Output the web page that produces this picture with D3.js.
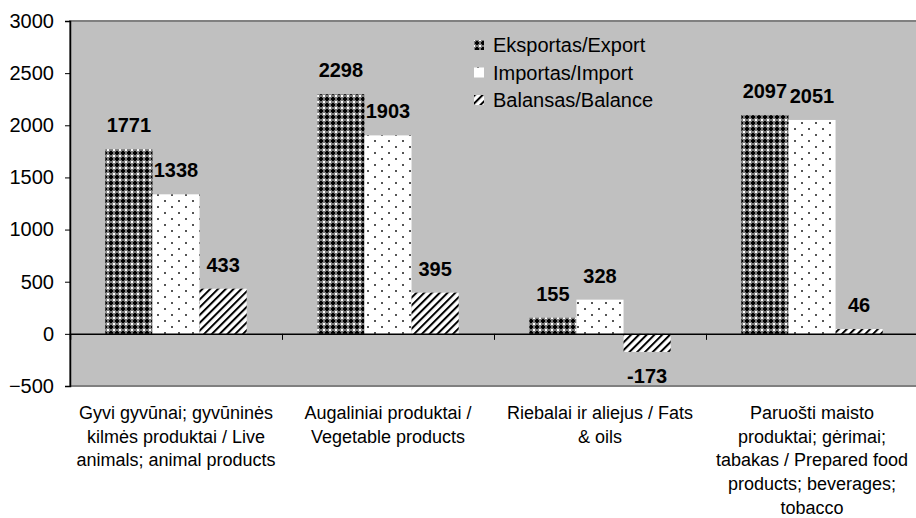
<!DOCTYPE html>
<meta charset="utf-8">
<style>
body { margin: 0; background: #fff; }
svg { font-family: Arial, "Liberation Sans", sans-serif; }
</style>
<svg width="916" height="518"></svg>
<script src="https://d3js.org/d3.v7.min.js"></script>
<script>

// chart data
var catLines = [
  ["Gyvi gyvūnai; gyvūninės", "kilmės produktai / Live", "animals; animal products"],
  ["Augaliniai produktai /", "Vegetable products"],
  ["Riebalai ir aliejus / Fats", "& oils"],
  ["Paruošti maisto", "produktai; gėrimai;", "tabakas / Prepared food", "products; beverages;", "tobacco"]
];
var seriesNames = ["Eksportas/Export", "Importas/Import", "Balansas/Balance"];
var exportVals = [1771, 2298, 155, 2097];
var importVals = [1338, 1903, 328, 2051];
var balanceVals = [433, 395, -173, 46];
var yTicks = [-500, 0, 500, 1000, 1500, 2000, 2500, 3000];

var svg = d3.select("svg");
var plot = {left: 70, right: 918, top: 21, bottom: 386};

var defs = svg.append("defs");

// export: dark checker
var p1 = defs.append("pattern").attr("id", "pExp")
    .attr("patternUnits", "userSpaceOnUse").attr("width", 6).attr("height", 6);
p1.append("rect").attr("width", 6).attr("height", 6).attr("fill", "#7a7a7a");
p1.append("rect").attr("x", 1).attr("y", 2).attr("width", 4).attr("height", 2).attr("fill", "#000");
p1.append("rect").attr("x", 2).attr("y", 1).attr("width", 2).attr("height", 4).attr("fill", "#000");
[[0,0],[5,0],[0,5],[5,5]].forEach(function(c){
  p1.append("rect").attr("x", c[0]).attr("y", c[1]).attr("width", 1).attr("height", 1).attr("fill", "#fff");
});

// import: white with dots
var p2 = defs.append("pattern").attr("id", "pImp")
    .attr("patternUnits", "userSpaceOnUse").attr("width", 14).attr("height", 12);
p2.append("rect").attr("width", 14).attr("height", 12).attr("fill", "#fff");
p2.append("rect").attr("x", 3).attr("y", 2).attr("width", 2).attr("height", 2).attr("fill", "#555");
p2.append("rect").attr("x", 10).attr("y", 8).attr("width", 2).attr("height", 2).attr("fill", "#555");

// balance: diagonal stripes
var p3 = defs.append("pattern").attr("id", "pBal")
    .attr("patternUnits", "userSpaceOnUse").attr("width", 5.5).attr("height", 5.5)
    .attr("patternTransform", "rotate(45)");
p3.append("rect").attr("width", 5.5).attr("height", 5.5).attr("fill", "#fff");
p3.append("rect").attr("width", 2).attr("height", 5.5).attr("fill", "#000");

var fills = ["url(#pExp)", "url(#pImp)", "url(#pBal)"];

var x0 = d3.scaleBand().domain(d3.range(catLines.length))
    .range([plot.left, plot.right]).padding(0);
var x1 = d3.scaleBand().domain(d3.range(3))
    .range([0, x0.bandwidth()]).paddingInner(0).paddingOuter(0.75);
var y = d3.scaleLinear().domain([-500, 3000]).range([plot.bottom, plot.top]);

// plot area
svg.append("rect")
    .attr("x", plot.left).attr("y", plot.top)
    .attr("width", plot.right - plot.left).attr("height", plot.bottom - plot.top)
    .attr("fill", "#c0c0c0").attr("stroke", "#808080").attr("stroke-width", 2);

var rows = [];
catLines.forEach(function(c, i) {
  [exportVals, importVals, balanceVals].forEach(function(arr, s) {
    rows.push({cat: i, s: s, v: arr[i]});
  });
});

svg.append("g").selectAll("rect").data(rows).join("rect")
    .attr("x", function(d) { return x0(d.cat) + x1(d.s); })
    .attr("width", x1.bandwidth())
    .attr("y", function(d) { return y(Math.max(0, d.v)); })
    .attr("height", function(d) { return Math.abs(y(d.v) - y(0)); })
    .attr("fill", function(d) { return fills[d.s]; });

// value labels
svg.append("g").selectAll("text").data(rows).join("text")
    .attr("x", function(d) { return x0(d.cat) + x1(d.s) + x1.bandwidth() / 2; })
    .attr("y", function(d) { return d.v >= 0 ? y(d.v) - 24 : y(d.v) + 24; })
    .attr("dy", "0.35em")
    .attr("text-anchor", "middle")
    .style("font-size", "20px").style("font-weight", "bold")
    .text(function(d) { return d.v; });

// y axis
var yAxis = svg.append("g")
    .attr("transform", "translate(" + plot.left + ",0)")
    .call(d3.axisLeft(y).tickValues(yTicks).tickSize(5).tickFormat(d3.format("d")));
yAxis.select(".domain").attr("stroke", "#000").attr("stroke-width", 1.5);
yAxis.selectAll(".tick line").attr("stroke", "#000");
yAxis.selectAll(".tick text").attr("x", -16)
    .style("font-size", "20px").style("font-family", "Arial, 'Liberation Sans', sans-serif").attr("fill", "#000");

// x axis at zero
var xAxis = svg.append("g")
    .attr("transform", "translate(0," + y(0) + ")")
    .call(d3.axisBottom(d3.scaleLinear().domain([0, catLines.length]).range([plot.left, plot.right]))
      .tickValues(d3.range(catLines.length + 1)).tickSize(6).tickFormat(""));
xAxis.select(".domain").attr("stroke", "#000").attr("stroke-width", 1.5);
xAxis.selectAll(".tick line").attr("stroke", "#000");

// category labels
var cl = svg.append("g").selectAll("text").data(catLines).join("text")
    .attr("text-anchor", "middle")
    .style("font-size", "18px");
cl.each(function(lines, i) {
  d3.select(this).selectAll("tspan").data(lines).join("tspan")
      .attr("x", x0(i) + x0.bandwidth() / 2)
      .attr("y", function(d, j) { return 419 + j * 23.7; })
      .text(function(d) { return d; });
});

// legend
var leg = svg.append("g").attr("transform", "translate(474,40)");
seriesNames.forEach(function(n, i) {
  leg.append("rect").attr("x", 0).attr("y", i * 27.5).attr("width", 10).attr("height", 10)
      .attr("fill", fills[i]);
  leg.append("text").attr("x", 19).attr("y", i * 27.5 + 5).attr("dy", "0.35em")
      .style("font-size", "20px").text(n);
});

</script>
